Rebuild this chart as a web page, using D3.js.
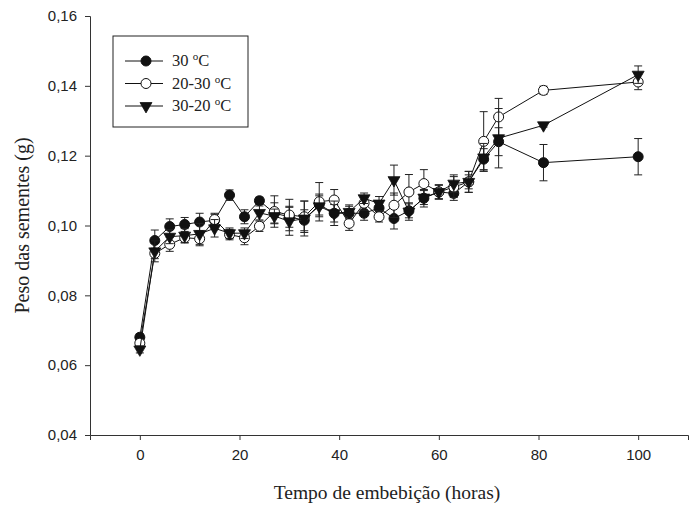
<!DOCTYPE html>
<html>
<head>
<meta charset="utf-8">
<script src="https://cdn.jsdelivr.net/npm/d3@7"></script>
<style>
  body { margin: 0; background: #fff; }
  svg { display: block; }
</style>
</head>
<body>
<svg id="chart"></svg>
<script>
    // hours of imbibition
    const hours = [0, 3, 6, 9, 12, 15, 18, 21, 24, 27, 30, 33, 36, 39, 42, 45, 48, 51, 54, 57, 60, 63, 66, 69, 72, 81, 100];

    const seriesNames = ["30 °C", "20-30 °C", "30-20 °C"];

    // 30 °C
    const mean30 = [0.0680, 0.0957, 0.0997, 0.1003, 0.1010, 0.1015, 0.1087, 0.1025, 0.1071, 0.1035, 0.1025, 0.1015, 0.1060, 0.1035, 0.1035, 0.1035, 0.1050, 0.1020, 0.1042, 0.1078, 0.1096, 0.1092, 0.1125, 0.1190, 0.1240, 0.1180, 0.1197];
    const err30 = [0.0010, 0.0030, 0.0022, 0.0020, 0.0025, 0.0020, 0.0015, 0.0020, 0.0010, 0.0030, 0.0030, 0.0030, 0.0030, 0.0025, 0.0020, 0.0020, 0.0015, 0.0030, 0.0020, 0.0025, 0.0020, 0.0020, 0.0020, 0.0030, 0.0040, 0.0052, 0.0052];

    // 20-30 °C
    const mean2030 = [0.0663, 0.0920, 0.0946, 0.0965, 0.0962, 0.1017, 0.0974, 0.0965, 0.0998, 0.1040, 0.1030, 0.1025, 0.1068, 0.1073, 0.1006, 0.1064, 0.1025, 0.1058, 0.1096, 0.1120, 0.1096, 0.1110, 0.1125, 0.1241, 0.1311, 0.1387, 0.1411];
    const err2030 = [0.0010, 0.0015, 0.0020, 0.0015, 0.0020, 0.0015, 0.0015, 0.0020, 0.0015, 0.0045, 0.0045, 0.0045, 0.0055, 0.0030, 0.0020, 0.0020, 0.0015, 0.0035, 0.0050, 0.0040, 0.0020, 0.0030, 0.0030, 0.0085, 0.0053, 0.0012, 0.0022];

    // 30-20 °C
    const mean3020 = [0.0645, 0.0926, 0.0968, 0.0971, 0.0976, 0.0992, 0.0978, 0.0978, 0.1036, 0.1027, 0.1012, 0.1020, 0.1055, 0.1035, 0.1039, 0.1078, 0.1063, 0.1130, 0.1040, 0.1080, 0.1096, 0.1120, 0.1125, 0.1195, 0.1250, 0.1287, 0.1432];
    const err3020 = [0.0010, 0.0030, 0.0020, 0.0020, 0.0030, 0.0025, 0.0015, 0.0015, 0.0020, 0.0020, 0.0040, 0.0050, 0.0030, 0.0035, 0.0020, 0.0015, 0.0020, 0.0043, 0.0025, 0.0020, 0.0020, 0.0025, 0.0030, 0.0040, 0.0085, 0.0005, 0.0025];

    const yTicks = [0.04, 0.06, 0.08, 0.10, 0.12, 0.14, 0.16];
    const xTicks = [0, 20, 40, 60, 80, 100];

    function createChart() {
      const width = 691;
      const height = 505;
      const margin = { top: 16, right: 3, bottom: 70, left: 90 };
      const serif = "'Liberation Serif', 'Times New Roman', serif";

      const svg = d3.select("#chart")
        .attr("width", width)
        .attr("height", height);

      const x = d3.scaleLinear()
        .domain([-10, 110])
        .range([margin.left, width - margin.right]);

      const y = d3.scaleLinear()
        .domain([0.04, 0.16])
        .range([height - margin.bottom, margin.top]);

      const locale = d3.formatLocale({ decimal: ",", thousands: ".", grouping: [3], currency: ["", ""] });
      const fmt = locale.format(".2f");

      // axes
      const xAxis = svg.append("g")
        .attr("transform", `translate(0,${height - margin.bottom})`)
        .call(d3.axisBottom(x).tickValues(xTicks).tickSizeOuter(0).tickSize(5).tickPadding(9));

      const yAxis = svg.append("g")
        .attr("transform", `translate(${margin.left},0)`)
        .call(d3.axisLeft(y).tickValues(yTicks).tickFormat(fmt).tickSizeOuter(0).tickSize(5).tickPadding(8));

      [xAxis, yAxis].forEach(a => {
        a.selectAll("text")
          .attr("font-family", "'Liberation Sans', Arial, sans-serif")
          .attr("font-size", 15)
          .attr("fill", "#222");
        a.selectAll("line, path").attr("stroke", "#333");
      });

      svg.append("text")
        .attr("x", 387)
        .attr("y", 499)
        .attr("text-anchor", "middle")
        .attr("font-family", serif)
        .attr("font-size", 19.5)
        .attr("fill", "#222")
        .text("Tempo de embebição (horas)");

      svg.append("text")
        .attr("transform", `translate(29,${(margin.top + height - margin.bottom) / 2}) rotate(-90)`)
        .attr("text-anchor", "middle")
        .attr("font-family", serif)
        .attr("font-size", 20)
        .attr("fill", "#222")
        .text("Peso das sementes (g)");

      const series = [
        { name: seriesNames[0], mean: mean30, err: err30, shape: "filled" },
        { name: seriesNames[1], mean: mean2030, err: err2030, shape: "open" },
        { name: seriesNames[2], mean: mean3020, err: err3020, shape: "tri" }
      ];

      const line = d3.line()
        .x(d => x(d.t))
        .y(d => y(d.v));

      const triangle = d3.symbol().type(d3.symbolTriangle).size(62);

      function drawMarker(sel, shape) {
        if (shape === "tri") {
          sel.append("path")
            .attr("d", triangle)
            .attr("transform", "rotate(180)")
            .attr("fill", "#111")
            .attr("stroke", "#111")
            .attr("stroke-width", 0.8);
        } else {
          sel.append("circle")
            .attr("r", 5)
            .attr("fill", shape === "filled" ? "#111" : "#fff")
            .attr("stroke", "#111")
            .attr("stroke-width", 1);
        }
      }

      const plot = svg.append("g");

      series.forEach(s => {
        const pts = hours.map((t, i) => ({ t: t, v: s.mean[i], e: s.err[i] }));
        const g = plot.append("g");

        g.append("path")
          .datum(pts)
          .attr("fill", "none")
          .attr("stroke", "#111")
          .attr("stroke-width", 1)
          .attr("d", line);

        // error bars
        const eb = g.append("g")
          .attr("stroke", "#222")
          .attr("stroke-width", 1)
          .selectAll("g")
          .data(pts)
          .join("g");

        eb.append("line")
          .attr("x1", d => x(d.t)).attr("x2", d => x(d.t))
          .attr("y1", d => y(d.v - d.e)).attr("y2", d => y(d.v + d.e));
        eb.append("line")
          .attr("x1", d => x(d.t) - 4).attr("x2", d => x(d.t) + 4)
          .attr("y1", d => y(d.v + d.e)).attr("y2", d => y(d.v + d.e));
        eb.append("line")
          .attr("x1", d => x(d.t) - 4).attr("x2", d => x(d.t) + 4)
          .attr("y1", d => y(d.v - d.e)).attr("y2", d => y(d.v - d.e));

        const m = g.append("g")
          .selectAll("g")
          .data(pts)
          .join("g")
          .attr("transform", d => `translate(${x(d.t)},${y(d.v)})`);
        drawMarker(m, s.shape);
      });

      // legend
      const legend = svg.append("g").attr("transform", "translate(113,36)");
      legend.append("rect")
        .attr("width", 135)
        .attr("height", 91)
        .attr("fill", "#fff")
        .attr("stroke", "#222")
        .attr("stroke-width", 1);

      series.forEach((s, i) => {
        const row = legend.append("g").attr("transform", `translate(0,${25 + i * 22.5})`);
        row.append("line")
          .attr("x1", 12).attr("x2", 50)
          .attr("stroke", "#111").attr("stroke-width", 1);
        drawMarker(row.append("g").attr("transform", "translate(33,0)"), s.shape);
        const label = row.append("text")
          .attr("x", 59)
          .attr("y", 5)
          .attr("font-family", serif)
          .attr("font-size", 16.5)
          .attr("fill", "#222");
        const parts = s.name.split("°");
        label.append("tspan").text(parts[0]);
        label.append("tspan").attr("dy", -6).attr("font-size", 11).text("o");
        label.append("tspan").attr("dy", 6).text(parts[1]);
      });
    }

    createChart();
</script>
</body>
</html>
